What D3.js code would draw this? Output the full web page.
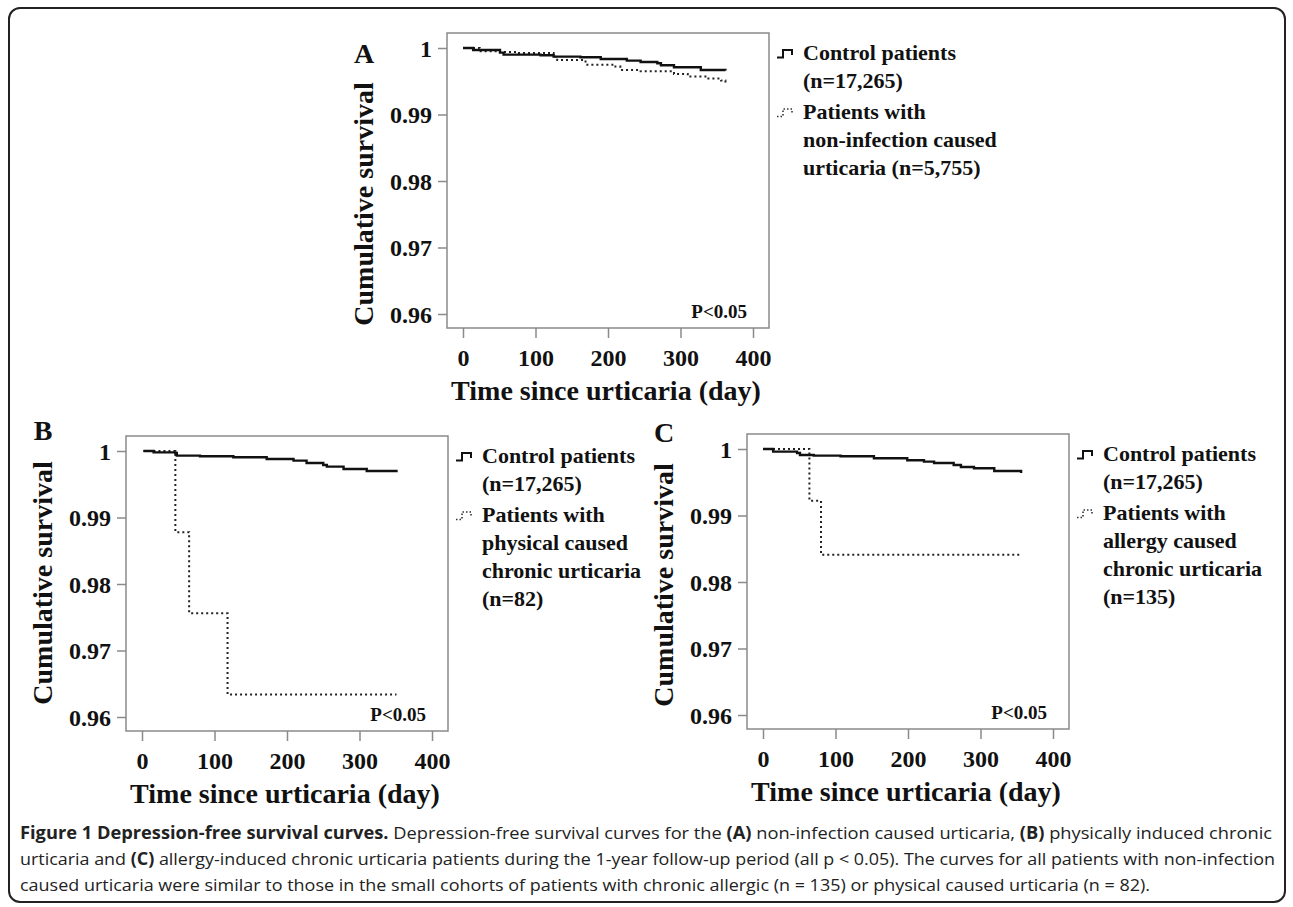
<!DOCTYPE html>
<html>
<head>
<meta charset="utf-8">
<script src="https://cdn.jsdelivr.net/npm/d3@7"></script>
<style>
  body { margin: 0; background: #fff; }
  svg { display: block; }
  .serif { font-family: "Liberation Serif", "Times New Roman", serif; font-weight: bold; fill: #111; }
  .cap { font-family: "Open Sans", "Noto Sans", sans-serif; fill: #222; white-space: pre; }
</style>
</head>
<body>
<div id="container"></div>
<script>

// tick values shared by the three panels
var xTicks = [0, 100, 200, 300, 400],
    yTicks = [0.96, 0.97, 0.98, 0.99, 1];

// A: non-infection caused urticaria
var ctrlA_days = [0, 14, 51, 56, 107, 125, 162, 190, 226, 245, 268, 273, 291, 328, 362],
    ctrlA_surv = [1, 0.9997, 0.9993, 0.9990, 0.9989, 0.9987, 0.9986, 0.99835, 0.9981, 0.9979, 0.9977, 0.9974, 0.9971, 0.9967, 0.9966];
var caseA_days = [0, 23, 51, 74, 125, 130, 169, 208, 217, 245, 291, 310, 337, 356, 362],
    caseA_surv = [1, 0.9995, 0.9994, 0.99925, 0.9987, 0.9982, 0.9975, 0.9972, 0.9967, 0.9965, 0.9961, 0.9957, 0.9954, 0.9951, 0.9948];

// B: physical caused chronic urticaria
var ctrlB_days = [2, 16, 46, 48, 80, 126, 172, 209, 227, 250, 255, 278, 310, 351],
    ctrlB_surv = [1, 0.9998, 0.9997, 0.9993, 0.9992, 0.99905, 0.9988, 0.99855, 0.9982, 0.9979, 0.99765, 0.9973, 0.9970, 0.9968];
var caseB_days = [2, 46, 65, 118, 351],
    caseB_surv = [1, 0.9878, 0.9756, 0.9634, 0.9634];

// C: allergy caused chronic urticaria
var ctrlC_days = [0, 14, 47, 51, 70, 107, 153, 199, 222, 236, 263, 273, 291, 319, 356],
    ctrlC_surv = [1, 0.9996, 0.9994, 0.9991, 0.9990, 0.9989, 0.9986, 0.9983, 0.9981, 0.9979, 0.9976, 0.9973, 0.9971, 0.9967, 0.9964];
var caseC_days = [0, 64, 80, 356],
    caseC_surv = [1, 0.9922, 0.9841, 0.9841];

var ctrlLegend = ["Control patients", "(n=17,265)"];
var caseLegendA = ["Patients with", "non-infection caused", "urticaria (n=5,755)"],
    caseLegendB = ["Patients with", "physical caused", "chronic urticaria", "(n=82)"],
    caseLegendC = ["Patients with", "allergy caused", "chronic urticaria", "(n=135)"];

var W = 1293, H = 907;
var box_w = 322, box_h = 295;

// titleY / letterY: offsets from box top for the rotated y title and the panel letter
var panels = [
  { id: "A", left: 447, top: 33, titleY: 171, letterY: 20, ctrl: [ctrlA_days, ctrlA_surv], cas: [caseA_days, caseA_surv], legend: caseLegendA },
  { id: "B", left: 126, top: 436, titleY: 147, letterY: -6, ctrl: [ctrlB_days, ctrlB_surv], cas: [caseB_days, caseB_surv], legend: caseLegendB },
  { id: "C", left: 747, top: 434, titleY: 151, letterY: -2, ctrl: [ctrlC_days, ctrlC_surv], cas: [caseC_days, caseC_surv], legend: caseLegendC }
];

var svg = d3.select("#container").append("svg")
    .attr("width", W)
    .attr("height", H);

// outer frame of the figure
svg.append("rect")
    .attr("x", 9).attr("y", 8)
    .attr("width", 1276).attr("height", 894)
    .attr("rx", 11)
    .attr("fill", "none")
    .attr("stroke", "#222")
    .attr("stroke-width", 2);

function zip(days, surv) {
  return days.map(function(d, i) { return { day: d, s: surv[i] } });
}

panels.forEach(function(p) {
  var x = d3.scaleLinear().domain([0, 400]).range([p.left + 16, p.left + 16 + 290]);
  var y = d3.scaleLinear().domain([0.96, 1]).range([p.top + 15 + 266, p.top + 15]);
  var bottom = p.top + box_h, right = p.left + box_w;

  var g = svg.append("g").attr("class", "panel");

  g.append("rect")
      .attr("x", p.left).attr("y", p.top)
      .attr("width", box_w).attr("height", box_h)
      .attr("fill", "none")
      .attr("stroke", "#8a8a8a")
      .attr("stroke-width", 1.5);

  var ya = g.append("g")
      .attr("transform", "translate(" + p.left + ",0)")
      .call(d3.axisLeft(y).tickValues(yTicks).tickSize(9)
        .tickFormat(function(d) { return d === 1 ? "1" : d3.format(".2f")(d) }));
  ya.select(".domain").remove();
  ya.selectAll("line").attr("stroke", "#8a8a8a").attr("stroke-width", 1.5);
  ya.selectAll("text").attr("class", "serif").attr("x", -15).attr("dy", "0.35em")
      .style("font-size", "24px");

  var xa = g.append("g")
      .attr("transform", "translate(0," + bottom + ")")
      .call(d3.axisBottom(x).tickValues(xTicks).tickSize(10).tickFormat(d3.format("d")));
  xa.select(".domain").remove();
  xa.selectAll("line").attr("stroke", "#8a8a8a").attr("stroke-width", 1.5);
  xa.selectAll("text").attr("class", "serif").attr("y", 30).attr("dy", "0.35em")
      .style("font-size", "24px");

  // axis titles
  g.append("text")
      .attr("class", "serif")
      .attr("x", p.left + box_w / 2 - 2)
      .attr("y", bottom + 62)
      .attr("dy", "0.35em")
      .attr("text-anchor", "middle")
      .style("font-size", "28px")
      .text("Time since urticaria (day)");

  g.append("text")
      .attr("class", "serif")
      .attr("transform", "translate(" + (p.left - 84) + "," + (p.top + p.titleY) + ") rotate(-90)")
      .attr("dy", "0.35em")
      .attr("text-anchor", "middle")
      .style("font-size", "28px")
      .text("Cumulative survival");

  g.append("text")
      .attr("class", "serif")
      .attr("x", p.left - 83)
      .attr("y", p.top + p.letterY)
      .attr("dy", "0.35em")
      .attr("text-anchor", "middle")
      .style("font-size", "28px")
      .text(p.id);

  g.append("text")
      .attr("class", "serif")
      .attr("x", right - 22)
      .attr("y", y(0.96) - 3)
      .attr("dy", "0.35em")
      .attr("text-anchor", "end")
      .style("font-size", "19px")
      .text("P<0.05");

  var line = d3.line()
      .x(function(d) { return x(d.day) })
      .y(function(d) { return y(d.s) })
      .curve(d3.curveStepAfter);

  g.append("path")
      .datum(zip(p.cas[0], p.cas[1]))
      .attr("d", line)
      .attr("fill", "none")
      .attr("stroke", "#222")
      .attr("stroke-width", 2)
      .attr("stroke-dasharray", "2,3");

  g.append("path")
      .datum(zip(p.ctrl[0], p.ctrl[1]))
      .attr("d", line)
      .attr("fill", "none")
      .attr("stroke", "#111")
      .attr("stroke-width", 2.4);

  // legend
  var lx = right + 34, ly = p.top + 19, lh = 28;
  var leg = g.append("g");
  ctrlLegend.forEach(function(t, i) {
    leg.append("text").attr("class", "serif")
        .attr("x", lx).attr("y", ly + i * lh).attr("dy", "0.35em")
        .style("font-size", "22px").text(t);
  });
  var ly2 = ly + (ctrlLegend.length - 1) * lh + 31;
  p.legend.forEach(function(t, i) {
    leg.append("text").attr("class", "serif")
        .attr("x", lx).attr("y", ly2 + i * lh).attr("dy", "0.35em")
        .style("font-size", "22px").text(t);
  });

  var sx = right + 8;
  leg.append("path")
      .attr("d", "M" + sx + "," + (ly + 5.5) + "H" + (sx + 6) + "V" + (ly - 2) + "H" + (sx + 15) + "V" + (ly + 3))
      .attr("fill", "none").attr("stroke", "#111").attr("stroke-width", 2);
  leg.append("path")
      .attr("d", "M" + sx + "," + (ly2 + 5.5) + "H" + (sx + 6) + "V" + (ly2 - 2) + "H" + (sx + 15) + "V" + (ly2 + 3))
      .attr("fill", "none").attr("stroke", "#333").attr("stroke-width", 1.6)
      .attr("stroke-dasharray", "1.5,2");
});

// caption
var capLines = [
  { w: 1252, parts: [["Figure 1 Depression-free survival curves.", 1], [" Depression-free survival curves for the ", 0], ["(A)", 1],
                     [" non-infection caused urticaria, ", 0], ["(B)", 1], [" physically induced chronic", 0]] },
  { w: 1255, parts: [["urticaria and ", 0], ["(C)", 1],
                     [" allergy-induced chronic urticaria patients during the 1-year follow-up period (all p < 0.05). The curves for all patients with non-infection", 0]] },
  { w: 1130, parts: [["caused urticaria were similar to those in the small cohorts of patients with chronic allergic (n = 135) or physical caused urticaria (n = 82).", 0]] }
];

capLines.forEach(function(l, i) {
  var t = svg.append("text")
      .attr("class", "cap")
      .attr("x", 20)
      .attr("y", 839 + i * 26)
      .attr("textLength", l.w)
      .attr("lengthAdjust", "spacingAndGlyphs")
      .style("font-size", "17px");
  l.parts.forEach(function(pt) {
    t.append("tspan")
        .style("font-weight", pt[1] ? "bold" : "normal")
        .text(pt[0]);
  });
});

</script>
</body>
</html>
